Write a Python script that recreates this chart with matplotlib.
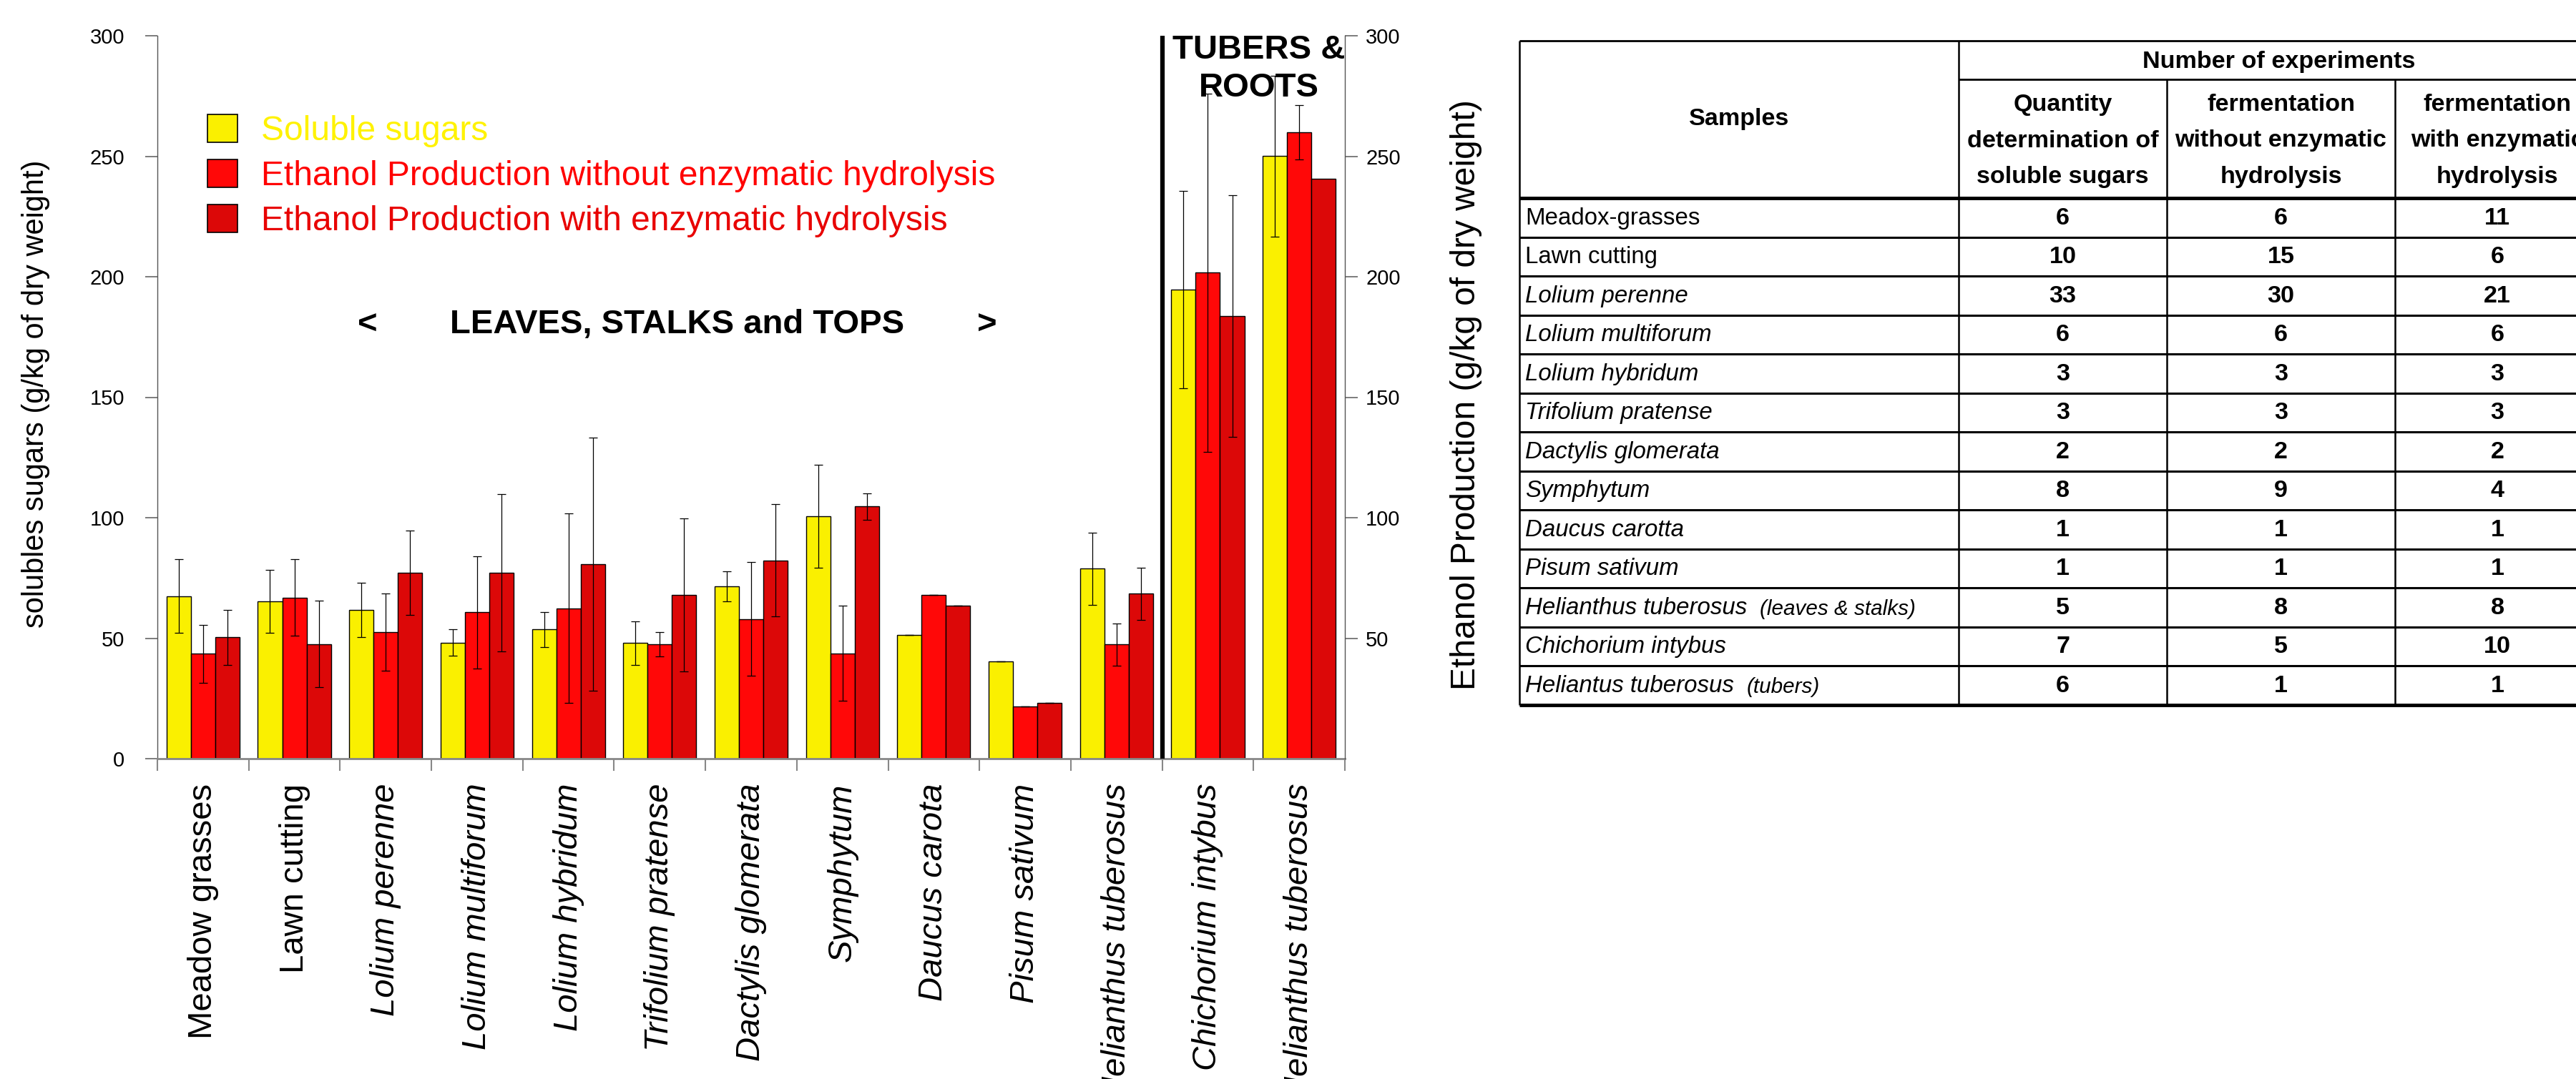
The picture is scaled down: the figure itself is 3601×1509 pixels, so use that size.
import matplotlib
matplotlib.use('Agg')
import matplotlib.pyplot as plt
import numpy as np
from matplotlib import font_manager
from matplotlib.patches import Patch

# ---- bar chart data (g/kg of dry weight) ----
categories = ['Meadow grasses', 'Lawn cutting', 'Lolium perenne', 'Lolium multiforum',
              'Lolium hybridum', 'Trifolium pratense', 'Dactylis glomerata', 'Symphytum',
              'Daucus carota', 'Pisum sativum', 'Helianthus tuberosus',
              'Chichorium intybus', 'Helianthus tuberosus']
italic = [False, False, True, True, True, True, True, True, True, True, True, True, True]
n_leaves = 11  # first 11 samples are leaves/stalks/tops, the rest tubers & roots

sugars = [67.5, 65.3, 61.7, 48.2, 53.6, 48.0, 71.5, 100.6, 51.4, 40.5, 78.8, 194.6, 250.1]
sugars_err = [15.2, 13.0, 11.2, 5.4, 7.3, 9.1, 6.1, 21.3, 0, 0, 15.0, 40.9, 33.4]
eth_no = [43.5, 66.9, 52.4, 60.7, 62.4, 47.4, 58.0, 43.7, 68.0, 21.8, 47.4, 201.7, 259.9]
eth_no_err = [12.1, 16.0, 16.0, 23.3, 39.3, 5.1, 23.5, 19.8, 0, 0, 8.7, 74.3, 11.3]
eth_enz = [50.3, 47.6, 77.1, 77.1, 80.7, 68.0, 82.3, 104.6, 63.4, 23.1, 68.4, 183.6, 240.7]
eth_enz_err = [11.3, 18.0, 17.5, 32.6, 52.4, 31.7, 23.3, 5.6, 0, 0, 10.7, 50.1, np.nan]

series_names = ['Soluble sugars',
                'Ethanol Production without enzymatic hydrolysis',
                'Ethanol Production with enzymatic hydrolysis']
colors = ['#FAF000', '#FF0808', '#DC0808']
legend_text_colors = ['#FFF200', '#FF0000', '#E80000']

# ---- table data (number of experiments) ----
samples = ['Meadox-grasses', 'Lawn cutting', 'Lolium perenne', 'Lolium multiforum',
           'Lolium hybridum', 'Trifolium pratense', 'Dactylis glomerata', 'Symphytum',
           'Daucus carotta', 'Pisum sativum', 'Helianthus tuberosus',
           'Chichorium intybus', 'Heliantus tuberosus']
sample_notes = ['', '', '', '', '', '', '', '', '', '', '(leaves & stalks)', '', '(tubers)']
sample_italic = [False, False, True, True, True, True, True, True, True, True, True, True, True]
n_sugars = [6, 10, 33, 6, 3, 3, 2, 8, 1, 1, 5, 7, 6]
n_ferm = [6, 15, 30, 6, 3, 3, 2, 9, 1, 1, 8, 5, 1]
n_ferm_enz = [11, 6, 21, 6, 3, 3, 2, 4, 1, 1, 8, 10, 1]
sub_headers = ['Quantity\ndetermination of\nsoluble sugars',
               'fermentation\nwithout enzymatic\nhydrolysis',
               'fermentation\nwith enzymatic\nhydrolysis']

W, H = 3601, 1509
installed = {f.name for f in font_manager.fontManager.ttflist}
if 'Liberation Sans Narrow' in installed:
    narrow, nscale = 'Liberation Sans Narrow', 1.0
else:
    narrow, nscale = 'Liberation Sans', 0.82
plt.rcParams['font.family'] = ['Liberation Sans', 'DejaVu Sans']

fig = plt.figure(figsize=(W / 100, H / 100), dpi=100)
ax = fig.add_axes([220 / W, 1 - 1061 / H, (1880 - 220) / W, (1061 - 50) / H])

x = np.arange(len(categories))
bw = 0.8 / 3
for k, (vals, errs) in enumerate([(sugars, sugars_err), (eth_no, eth_no_err),
                                  (eth_enz, eth_enz_err)]):
    xs = x + (k - 1) * bw
    ax.bar(xs, vals, width=bw, color=colors[k], edgecolor='black', linewidth=1.0, zorder=2)
    ax.errorbar(xs, vals, yerr=errs, fmt='none', ecolor='black', elinewidth=0.9,
                capsize=4.5, capthick=0.9, zorder=3)

ax.set_xlim(-0.5, len(categories) - 0.5)
ax.set_ylim(0, 300)
ax.set_yticks(np.arange(0, 301, 50))
ax.tick_params(axis='y', labelsize=21, length=12, width=1.2, color='#666666', pad=21)

ax.set_xticks(np.arange(len(categories) + 1) - 0.5)
ax.set_xticklabels([])
ax.set_xticks(x, minor=True)
ax.set_xticklabels(categories, minor=True, rotation=90, fontsize=34, va='top')
for lab, it in zip(ax.get_xticklabels(minor=True), italic):
    lab.set_style('italic' if it else 'normal')
ax.tick_params(axis='x', which='major', length=12, width=1.5, color='#888888')
ax.tick_params(axis='x', which='minor', length=0, pad=25)

for side in ['top', 'right']:
    ax.spines[side].set_visible(False)
ax.spines['left'].set_color('#555555')
ax.spines['left'].set_linewidth(1.0)
ax.spines['bottom'].set_color('#888888')
ax.spines['bottom'].set_linewidth(2.0)

ax2 = ax.twinx()
ax2.set_ylim(0, 300)
ax2.set_yticks(np.arange(50, 301, 50))
ax2.tick_params(axis='y', labelsize=21, length=13, width=1.2, color='#666666', pad=8)
for side in ['top', 'left', 'bottom']:
    ax2.spines[side].set_visible(False)
ax2.spines['right'].set_color('#555555')
ax2.spines['right'].set_linewidth(1.0)

# separator between leaves and tubers
ax.vlines(n_leaves - 0.5, 0, 300, color='black', linewidth=4.5, zorder=4)

ax.text(1.80, 180, '<', fontsize=34, fontweight='bold', ha='center', va='center')
ax.text(5.19, 180, 'LEAVES, STALKS and TOPS', fontsize=34, fontweight='bold',
        ha='center', va='center')
ax.text(8.58, 180, '>', fontsize=34, fontweight='bold', ha='center', va='center')
ax.text(11.56, 300.5, 'TUBERS &\nROOTS', fontsize=34, fontweight='bold',
        ha='center', va='top', linespacing=1.27, zorder=5)

handles = [Patch(facecolor=c, edgecolor='black', linewidth=1.2) for c in colors]
leg = ax.legend(handles, series_names, loc='upper left', bbox_to_anchor=(290 / W, 1 - 160 / H),
                bbox_transform=fig.transFigure, frameon=False, fontsize=34.5,
                handlelength=0.88, handleheight=0.88, handletextpad=0.69,
                labelspacing=0.35, borderpad=0, borderaxespad=0)
for t, c in zip(leg.get_texts(), legend_text_colors):
    t.set_color(c)

fig.text(50 / W, 1 - 551 / H, 'solubles sugars (g/kg of dry weight)', rotation=90,
         fontsize=30, ha='center', va='center')
fig.text(2050 / W, 1 - 552 / H, 'Ethanol Production (g/kg of dry weight)', rotation=90,
         fontsize=42 * nscale, family=narrow, ha='center', va='center')

# ---- experiments table, drawn in pixel coordinates ----
tab = fig.add_axes([0, 0, 1, 1])
tab.set_xlim(0, W)
tab.set_ylim(H, 0)
tab.axis('off')

col_edges = [2124, 2738, 3029, 3348, 3634]
tab_top, sub_top, head_bottom, row_h = 57, 111, 277, 54.5
n_rows = len(samples)
tab_bottom = head_bottom + n_rows * row_h

tab.hlines(tab_top, col_edges[0], W + 50, color='black', linewidth=2.0)
tab.hlines(sub_top, col_edges[1], W + 50, color='black', linewidth=2.0)
tab.hlines(head_bottom, col_edges[0], W + 50, color='black', linewidth=3.5)
for i in range(1, n_rows):
    tab.hlines(head_bottom + i * row_h, col_edges[0], W + 50, color='black', linewidth=2.2)
tab.hlines(tab_bottom, col_edges[0], W + 50, color='black', linewidth=3.5)
tab.vlines(col_edges[0], tab_top, tab_bottom, color='black', linewidth=1.8)
tab.vlines(col_edges[1], tab_top, tab_bottom, color='black', linewidth=1.8)
for xe in col_edges[2:4]:
    tab.vlines(xe, sub_top, tab_bottom, color='black', linewidth=1.8)

hfs = 30 * nscale
tab.text((col_edges[0] + col_edges[1]) / 2, (tab_top + head_bottom) / 2, 'Samples',
         fontsize=hfs, family=narrow, fontweight='bold', ha='center', va='center')
tab.text((col_edges[1] + col_edges[4]) / 2, (tab_top + sub_top) / 2 + 2, 'Number of experiments',
         fontsize=hfs, family=narrow, fontweight='bold', ha='center', va='center')
for j, s in enumerate(sub_headers):
    tab.text((col_edges[j + 1] + col_edges[j + 2]) / 2, (sub_top + head_bottom) / 2 + 3, s,
             fontsize=hfs, family=narrow, fontweight='bold', ha='center', va='center',
             linespacing=1.8)

renderer = fig.canvas.get_renderer()
for i in range(n_rows):
    yc = head_bottom + (i + 0.5) * row_h + 1
    t = tab.text(col_edges[0] + 8, yc, samples[i], fontsize=29 * nscale, family=narrow,
                 style='italic' if sample_italic[i] else 'normal', ha='left', va='center')
    if sample_notes[i]:
        bb = t.get_window_extent(renderer=renderer)
        tab.text(bb.x1 + 18, yc + 2, sample_notes[i], fontsize=26 * nscale, family=narrow,
                 style='italic', ha='left', va='center')
    for j, vals in enumerate([n_sugars, n_ferm, n_ferm_enz]):
        tab.text((col_edges[j + 1] + col_edges[j + 2]) / 2, yc, str(vals[i]),
                 fontsize=30 * nscale, family=narrow, fontweight='bold',
                 ha='center', va='center')

fig.savefig('out.png', dpi=100)
